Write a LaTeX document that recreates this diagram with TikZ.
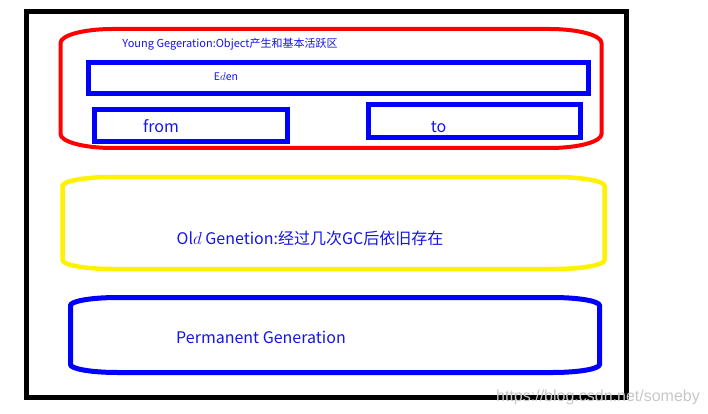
\documentclass[tikz,border=0pt]{standalone}
\usepackage{fontspec}
\setmainfont{Noto Sans CJK SC}
\newfontfamily\wmfont{Liberation Sans}
\definecolor{tblue}{RGB}{20,20,235}
\newcommand\myovalbox[7]{%
  \draw[#1] ({#2+#6},#3) -- ({#4-#6},#3)
    arc[start angle=90,end angle=0,x radius=#6pt,y radius=#7pt]
    -- (#4,{#5-#7})
    arc[start angle=0,end angle=-90,x radius=#6pt,y radius=#7pt]
    -- ({#2+#6},#5)
    arc[start angle=-90,end angle=-180,x radius=#6pt,y radius=#7pt]
    -- (#2,{#3+#7})
    arc[start angle=180,end angle=90,x radius=#6pt,y radius=#7pt]
    -- cycle;}
\begin{document}
\begin{tikzpicture}[x=1pt,y=-1pt,
  lbl/.style={text=tblue,inner sep=0pt,anchor=base},
  inbox/.style={draw=blue,line width=5pt,inner sep=0pt}]
\useasboundingbox (0,0) rectangle (708,414);
% outer frame
\draw[line width=5pt] (26,12) rectangle (626.5,397);
% young generation
\myovalbox{red,line width=4pt}{60.5}{29}{601.5}{148}{52}{14}
\node[lbl,font=\fontsize{11}{12}\selectfont] (young) at (230,48) {Young Gegeration:Object产生和基本活跃区};
\node[inbox,minimum width=500.5pt,minimum height=31pt] (eden) at (338.25,78) {};
\node[lbl,font=\fontsize{10.5}{12}\selectfont] (edent) at (226,81) {E$d$en};
\node[inbox,minimum width=193pt,minimum height=32pt] (from) at (191,125.5) {};
\node[lbl,font=\fontsize{16}{18}\selectfont] (fromt) at (161,133) {from};
\node[inbox,minimum width=212pt,minimum height=33.5pt] (to) at (474.5,121.25) {};
\node[lbl,font=\fontsize{16}{18}\selectfont] (tot) at (438.5,132) {to};
% old generation
\myovalbox{yellow,line width=4.5pt}{62.5}{177}{604.5}{269}{50}{9}
\node[lbl,font=\fontsize{16}{18}\selectfont] (old) at (310,244) {Ol$d$ Genetion:经过几次GC后依旧存在};
% permanent generation
\myovalbox{blue,line width=5pt}{70.5}{297.5}{599.5}{372.5}{47}{8}
\node[lbl,font=\fontsize{16}{18}\selectfont] (perm) at (261,343) {Permanent Generation};
% watermark
\node[inner sep=0pt,anchor=base,text=black!22,font=\wmfont\fontsize{16}{18}\selectfont] (wm) at (598,401) {https://blog.csdn.net/someby};
\end{tikzpicture}
\end{document}
